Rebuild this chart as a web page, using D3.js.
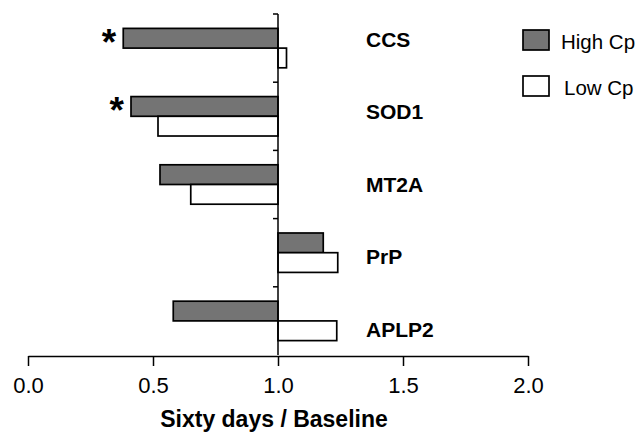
<!DOCTYPE html>
<html>
<head>
<meta charset="utf-8">
<script src="https://cdn.jsdelivr.net/npm/d3@7"></script>
<style>
  html, body { margin: 0; padding: 0; background: #fff; }
  svg { display: block; }
  text { font-family: "Liberation Sans", Arial, Helvetica, sans-serif; fill: #000; }
</style>
</head>
<body>
<svg id="chart" width="638" height="432"></svg>
<script>
const categories = ["CCS", "SOD1", "MT2A", "PrP", "APLP2"];
const highCp = [0.381, 0.412, 0.528, 1.181, 0.581];
const lowCp = [1.034, 0.520, 0.651, 1.239, 1.235];
const significant = [true, true, false, false, false];
const seriesNames = ["High Cp", "Low Cp"];
const xTicks = [0, 0.5, 1.0, 1.5, 2.0];
const baseline = 1.0;
const xTitle = "Sixty days / Baseline";

const svg = d3.select("#chart");
const x = d3.scaleLinear().domain([0, 2]).range([28, 528]);
const y = d3.scaleBand().domain(categories).range([14, 355]).padding(0);
const sub = d3.scaleBand().domain(seriesNames).range([0, y.bandwidth()]).paddingInner(0).paddingOuter(0.73);
const labelY = d3.scalePoint().domain(categories).range([46.5, 336.5]);
const fills = { "High Cp": "#747474", "Low Cp": "#ffffff" };

const rows = [];
categories.forEach((c, i) => {
  rows.push({ cat: c, s: "High Cp", v: highCp[i] });
  rows.push({ cat: c, s: "Low Cp", v: lowCp[i] });
});

// bars
svg.append("g").selectAll("rect").data(rows).join("rect")
  .attr("x", d => Math.min(x(baseline), x(d.v)))
  .attr("y", d => y(d.cat) + sub(d.s))
  .attr("width", d => Math.abs(x(d.v) - x(baseline)))
  .attr("height", sub.bandwidth())
  .attr("fill", d => fills[d.s])
  .attr("stroke", "#000")
  .attr("stroke-width", 1.7);

// vertical axis at baseline
svg.append("line")
  .attr("x1", x(baseline)).attr("x2", x(baseline))
  .attr("y1", y.range()[0]).attr("y2", y.range()[1])
  .attr("stroke", "#000").attr("stroke-width", 1.5);
svg.append("g").selectAll("line").data(categories).join("line")
  .attr("x1", x(baseline) - 5).attr("x2", x(baseline))
  .attr("y1", d => y(d)).attr("y2", d => y(d))
  .attr("stroke", "#000").attr("stroke-width", 1.5);

// x axis
const xAxis = d3.axisBottom(x).tickValues(xTicks).tickFormat(d3.format(".1f"))
  .tickSize(10).tickSizeOuter(0);
const gx = svg.append("g").attr("transform", "translate(0,356)").call(xAxis);
gx.select(".domain").attr("stroke", "#000").attr("stroke-width", 1.5);
gx.selectAll(".tick line").attr("stroke", "#000").attr("stroke-width", 1.5);
gx.selectAll(".tick text")
  .attr("y", 37).attr("dy", null)
  .style("font-family", "'Liberation Sans', Arial, sans-serif")
  .style("font-size", "22px").attr("fill", "#000");

// x title
svg.append("text")
  .attr("x", 274).attr("y", 427)
  .attr("text-anchor", "middle")
  .style("font-size", "23px").style("font-weight", "bold")
  .text(xTitle);

// category labels
svg.append("g").selectAll("text").data(categories).join("text")
  .attr("x", 366).attr("y", d => labelY(d))
  .style("font-size", "21px").style("font-weight", "bold")
  .text(d => d);

// significance asterisks
svg.append("g").selectAll("text")
  .data(categories.map((c, i) => ({ cat: c, v: highCp[i], sig: significant[i] })).filter(d => d.sig))
  .join("text")
  .attr("x", d => x(d.v) - 7)
  .attr("y", d => y(d.cat) + sub("High Cp") + sub.bandwidth() / 2 + 17)
  .attr("text-anchor", "end")
  .style("font-size", "37px").style("font-weight", "bold")
  .text("*");

// legend
const leg = svg.append("g").selectAll("g").data(seriesNames).join("g")
  .attr("transform", (d, i) => `translate(523,${30 + i * 46})`);
leg.append("rect")
  .attr("width", 26).attr("height", 20)
  .attr("fill", d => fills[d]).attr("stroke", "#000").attr("stroke-width", 1.7);
leg.append("text")
  .attr("x", (d, i) => 38 + i * 3).attr("y", 19)
  .style("font-size", "20.5px")
  .text(d => d);
</script>
</body>
</html>
